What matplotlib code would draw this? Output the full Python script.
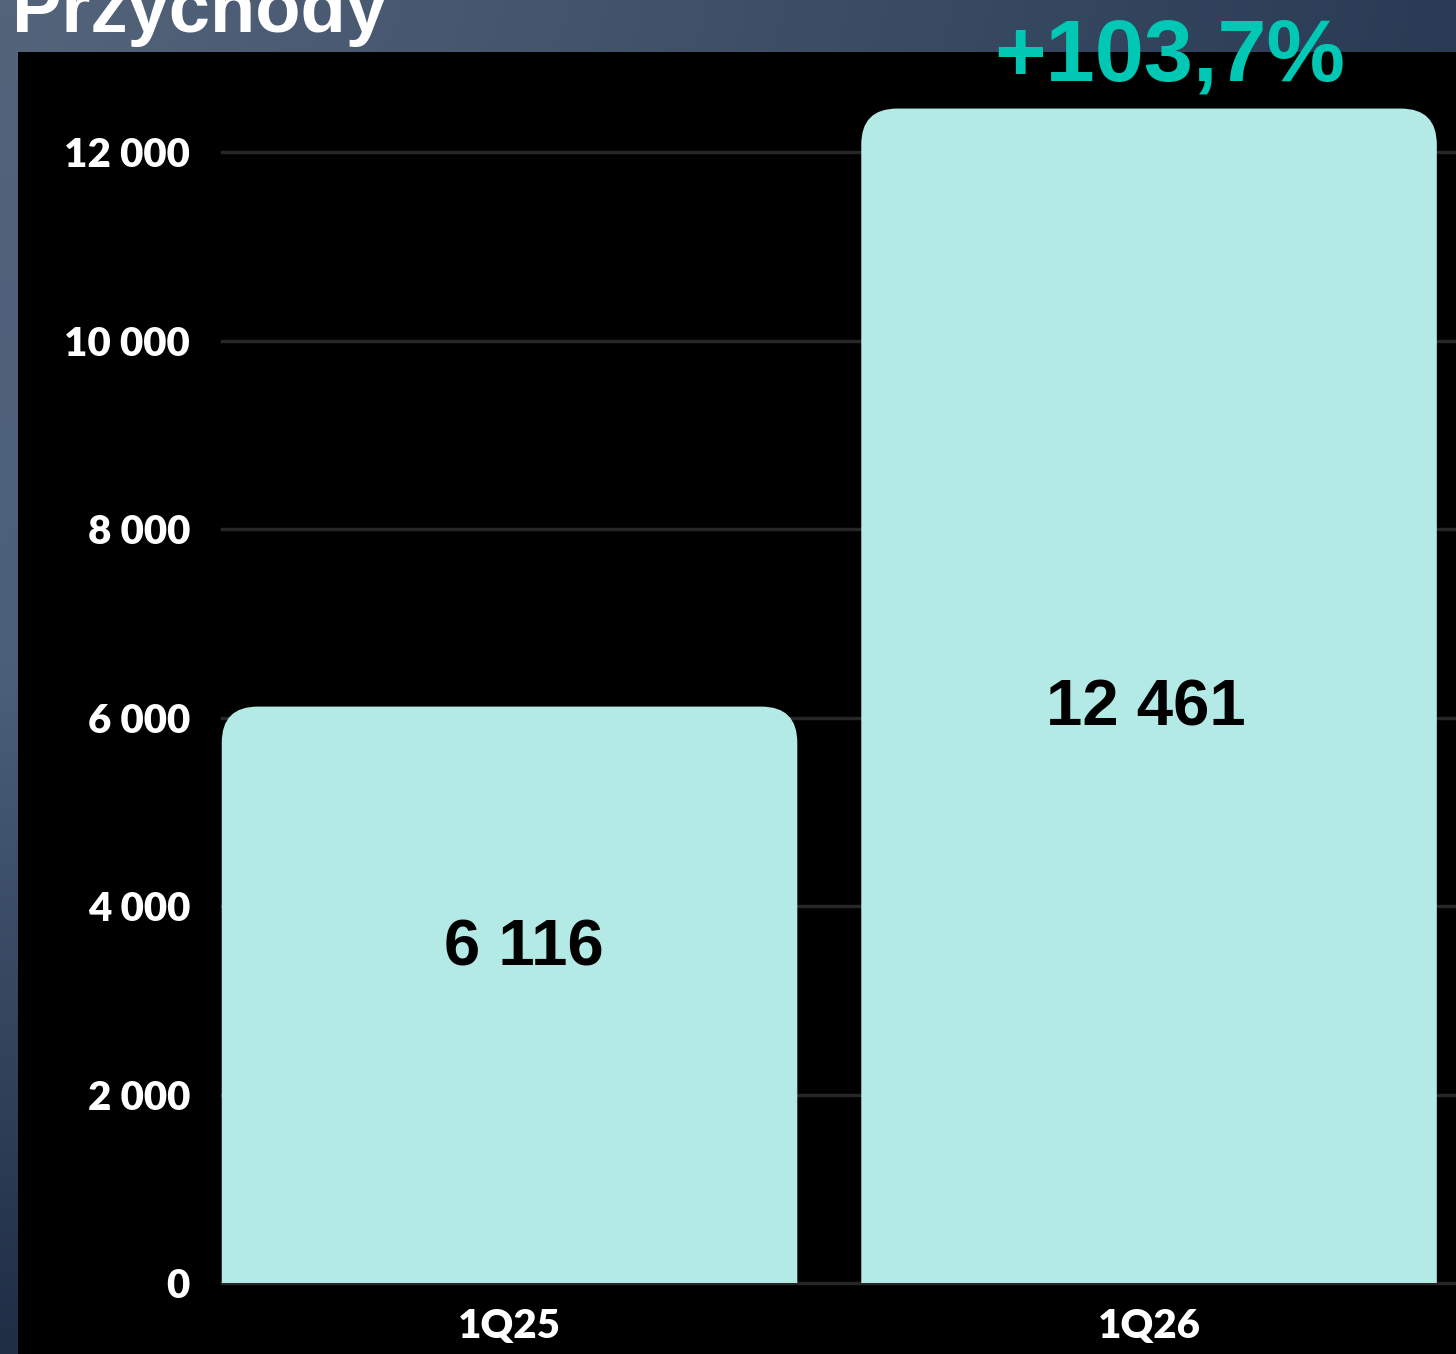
import numpy as np
import matplotlib
matplotlib.use("Agg")
import matplotlib.pyplot as plt
from matplotlib.patches import FancyBboxPatch, Rectangle
from matplotlib.colors import to_rgb

categories = ["1Q25", "1Q26"]
values = [6116, 12461]
value_labels = ["6 116", "12 461"]
yticks = [0, 2000, 4000, 6000, 8000, 10000, 12000]
ytick_labels = ["0", "2 000", "4 000", "6 000", "8 000", "10 000", "12 000"]
title = "Przychody"
growth_label = "+103,7%"

W, H = 1456, 1354
fig = plt.figure(figsize=(W / 100, H / 100), dpi=100)

# background gradient (photo-like blue-gray)
bg = fig.add_axes([0, 0, 1, 1], zorder=0)
bg.axis("off")
c_tl = np.array(to_rgb("#53647b"))
c_tr = np.array(to_rgb("#2a3b55"))
c_ml = np.array(to_rgb("#4b5f79"))
c_bl = np.array(to_rgb("#1f2e45"))
ny, nx = 60, 60
img = np.zeros((ny, nx, 3))
for i in range(ny):
    t = i / (ny - 1)
    if t <= 0.5:
        left = c_tl * (1 - 2 * t) + c_ml * (2 * t)
    else:
        left = c_ml * (2 - 2 * t) + c_bl * (2 * t - 1)
    for j in range(nx):
        s = j / (nx - 1)
        img[i, j] = left * (1 - s) + (c_tr * (1 - t) + c_bl * t) * s
bg.imshow(img, aspect="auto", extent=[0, 1, 0, 1], interpolation="bilinear")
bg.set_xlim(0, 1)
bg.set_ylim(0, 1)

# main black panel
left_px, top_px = 18, 52
ax = fig.add_axes([left_px / W, 0, 1 - left_px / W, 1 - top_px / H], zorder=1)
ax.set_facecolor("black")
for s in ax.spines.values():
    s.set_visible(False)

x = np.arange(len(categories))
bar_w = 0.9
ax.set_xlim(-0.7686, 1.48)
ax.set_ylim(-753, 13061)

bars = ax.bar(x, values, width=bar_w, color="#b3eae5", zorder=2)

# gridlines starting at first bar's left edge
x0 = bars[0].get_x()
xl = ax.get_xlim()
for yv in yticks:
    ax.axhline(yv, xmin=(x0 - xl[0]) / (xl[1] - xl[0]), xmax=1,
               color="#262626", lw=2.5, zorder=1)

# rounded top corners
rad_px = 36
ax_w_px = W - left_px
ax_h_px = H - top_px
ux = (xl[1] - xl[0]) / ax_w_px
uy = (ax.get_ylim()[1] - ax.get_ylim()[0]) / ax_h_px
rx = rad_px * ux
for b in bars:
    b.set_visible(False)
    bx, bwid, bh = b.get_x(), b.get_width(), b.get_height()
    ext = 2000
    p = FancyBboxPatch((bx, -ext), bwid, bh + ext,
                       boxstyle=f"round,pad=0,rounding_size={rx}",
                       mutation_aspect=uy / ux, fc="#b3eae5", ec="none", zorder=2)
    ax.add_patch(p)
    clip = Rectangle((bx - 1, 0), bwid + 2, 20000, transform=ax.transData)
    p.set_clip_path(clip)

# ticks
ax.set_yticks(yticks)
ax.set_yticklabels(ytick_labels)
ax.tick_params(axis="y", length=0, pad=-172 * 0.72, labelcolor="white",
               labelsize=29)
for t in ax.get_yticklabels():
    t.set_fontfamily("Lato")
    t.set_fontweight("heavy")
ax.set_xticks(x)
ax.set_xticklabels(categories)
ax.tick_params(axis="x", length=0, pad=-46 * 0.72, labelcolor="white",
               labelsize=29)
for t in ax.get_xticklabels():
    t.set_fontfamily("Lato")
    t.set_fontweight("heavy")

# value labels inside bars
label_frac = [0.5795, 0.489]
label_dx_px = [14, -3]
for xi, v, lab, f, dx in zip(x, values, value_labels, label_frac, label_dx_px):
    ax.text(xi + dx * ux, v * f, lab, ha="center", va="center", fontsize=47,
            fontweight="bold", color="black", family="Liberation Sans", zorder=3)

# growth label
fig.text(1170 / W, 1 - 80 / H, growth_label, ha="center", va="baseline",
         fontsize=63.5, fontweight="bold", color="#00c8b4",
         family="Liberation Sans", zorder=5)

# title (cut off at top, as in the source)
fig.text(12 / W, 1 - 32 / H, title, ha="left", va="baseline",
         fontsize=53.5, fontweight="bold", color="white",
         family="Liberation Sans", zorder=5)

fig.savefig("out.png", dpi=100, facecolor=fig.get_facecolor())
